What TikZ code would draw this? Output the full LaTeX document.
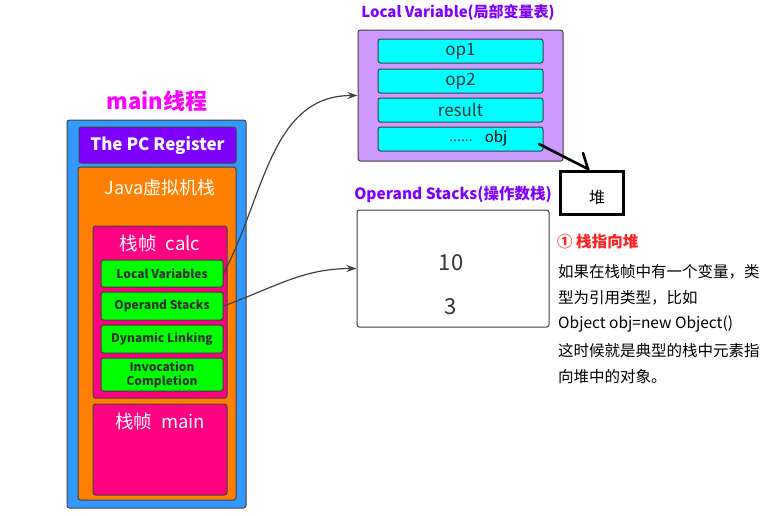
\documentclass[tikz,border=0pt]{standalone}
\usepackage{fontspec}
\setmainfont{Noto Sans CJK SC}
\usetikzlibrary{arrows.meta}
\definecolor{cblue}{HTML}{3399FF}
\definecolor{cpurple}{HTML}{8000FF}
\definecolor{corange}{HTML}{FF8000}
\definecolor{cpink}{HTML}{FF0080}
\definecolor{cgreen}{HTML}{00FF00}
\definecolor{clav}{HTML}{CC99FF}
\definecolor{ccyan}{HTML}{00FFFF}
\definecolor{cborder}{HTML}{404040}
\definecolor{ctext}{HTML}{333333}
\definecolor{cmag}{HTML}{FF00FF}
\definecolor{cred}{HTML}{FF2020}
\begin{document}
\begin{tikzpicture}[x=1pt,y=-1pt,
  box/.style={draw=cborder,line width=1pt,rounded corners=2.5pt,inner sep=0pt},
  gbox/.style={box,fill=cgreen,minimum width=122pt,text=ctext,font=\fontsize{12}{12}\selectfont\bfseries,align=center},
  cbox/.style={box,fill=ccyan,minimum width=165pt,minimum height=24pt,text=ctext,font=\fontsize{17}{18}\selectfont},
  lbl/.style={inner sep=0pt},
  conn/.style={draw=cborder,line width=1.2pt,-{Stealth[length=10pt,width=7pt]}},
  rtxt/.style={inner sep=0pt,anchor=west,font=\fontsize{15.5}{16}\selectfont}
]
\useasboundingbox (0,0) rectangle (778,515);
% main thread
\node[lbl,text=cmag,font=\fontsize{22}{24}\selectfont\bfseries] (title) at (157,101) {main线程};
\node[box,fill=cblue,minimum width=179pt,minimum height=388pt] (outer) at (156.5,314) {};
\node[box,fill=cpurple,minimum width=157pt,minimum height=36pt,text=white,font=\fontsize{17}{18}\selectfont\bfseries] (pc) at (157.5,145) {The PC Register};
\node[box,fill=corange,minimum width=158pt,minimum height=333pt] (jvm) at (157,333.5) {};
\node[lbl,text=white,font=\fontsize{18}{20}\selectfont] (jvmlbl) at (160,188) {Java虚拟机栈};
\node[box,fill=cpink,minimum width=134pt,minimum height=172pt] (calc) at (160,312) {};
\node[lbl,text=white,font=\fontsize{18.5}{20}\selectfont] (calclbl) at (160,243) {栈帧\hspace{9pt}calc};
\node[gbox,minimum height=27pt] (lv) at (162,273.5) {Local Variables};
\node[gbox,minimum height=28pt] (os) at (162,306) {Operand Stacks};
\node[gbox,minimum height=28pt] (dl) at (162,339) {Dynamic Linking};
\node[gbox,minimum height=33pt,font=\fontsize{12}{14.5}\selectfont\bfseries] (ic) at (162,374.5) {Invocation\\Completion};
\node[box,fill=cpink,minimum width=134pt,minimum height=91pt] (mainf) at (160,449.5) {};
\node[lbl,text=white,font=\fontsize{18.5}{20}\selectfont] (mainlbl) at (160,421) {栈帧\hspace{9pt}main};
% local variable table
\node[lbl,text=cpurple,font=\fontsize{15}{16}\selectfont\bfseries] (lvtitle) at (458,13) {Local Variable(局部变量表)};
\node[box,fill=clav,minimum width=205pt,minimum height=131pt] (lvbox) at (460.5,95.5) {};
\node[cbox] (op1) at (460.5,51) {op1};
\node[cbox] (op2) at (460.5,81) {op2};
\node[cbox] (res) at (460.5,110) {result};
\node[cbox] (obj) at (460.5,139) {};
\node[lbl,text=ctext,font=\fontsize{14}{16}\selectfont] (dots) at (461,141) {......};
\node[lbl,text=black,font=\fontsize{15}{16}\selectfont] (objlbl) at (496,138) {obj};
% operand stack
\node[lbl,text=cpurple,font=\fontsize{15.5}{16}\selectfont\bfseries] (ostitle) at (453,194) {Operand Stacks(操作数栈)};
\node[box,fill=white,minimum width=192pt,minimum height=117pt] (osbox) at (453,268.5) {};
\node[lbl,text=ctext,font=\fontsize{22}{24}\selectfont] (v10) at (451,263) {10};
\node[lbl,text=ctext,font=\fontsize{22}{24}\selectfont] (v3) at (451,307) {3};
% heap
\node[draw=black,line width=3pt,minimum width=63pt,minimum height=43pt,inner sep=0pt] (heap) at (592,193) {};
\node[lbl,font=\fontsize{16}{18}\selectfont] (heaplbl) at (597,197) {堆};
% connectors
\draw[conn] (lv.east) to[out=62,in=180] (lvbox.west);
\draw[conn] (os.east) to[out=20,in=180] (osbox.west);
\coordinate (objpt) at (539,144);
\coordinate (tip) at (588,169);
\coordinate (barb) at (583,153);
\draw[black,line width=2.6pt,line cap=round] (objpt) -- (tip) -- (barb);
% notes
\node[rtxt,text=cred,font=\fontsize{15.5}{16}\selectfont\bfseries] (n0) at (557,242) {① 栈指向堆};
\node[rtxt] (n1) at (558,272) {如果在栈帧中有一个变量，类};
\node[rtxt] (n2) at (558,298) {型为引用类型，比如};
\node[rtxt] (n3) at (558,324) {Object obj=new Object()};
\node[rtxt] (n4) at (558,351) {这时候就是典型的栈中元素指};
\node[rtxt] (n5) at (558,377) {向堆中的对象。};
\end{tikzpicture}
\end{document}
